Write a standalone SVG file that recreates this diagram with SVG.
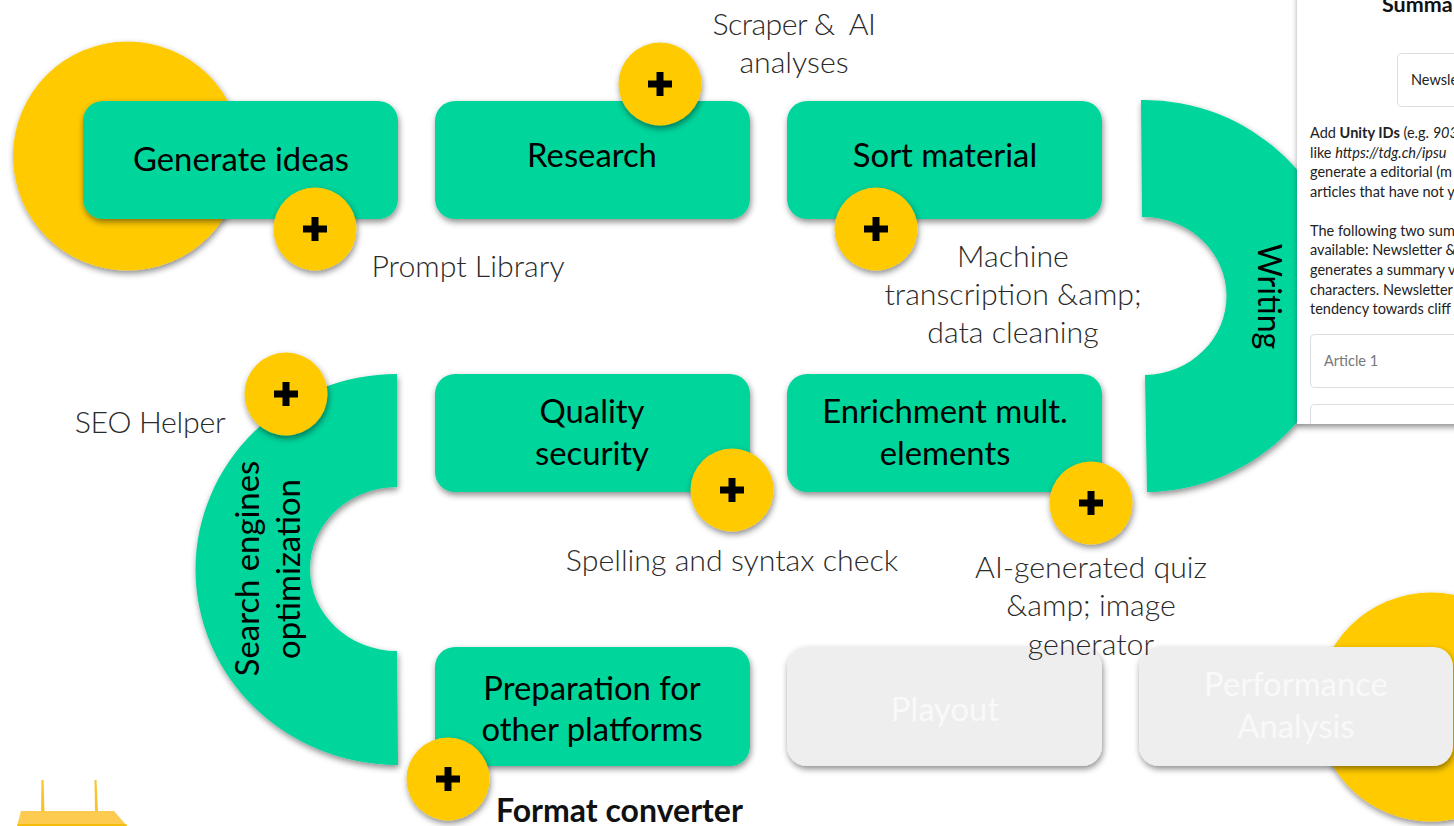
<svg xmlns="http://www.w3.org/2000/svg" width="1454" height="826" viewBox="0 0 1454 826">
<defs>
<filter id="sh" x="-20%" y="-20%" width="140%" height="140%"><feDropShadow dx="1" dy="3" stdDeviation="3" flood-color="#000" flood-opacity="0.45"/></filter>
<clipPath id="pclip"><rect x="1297" y="0" width="157" height="424"/></clipPath>
<g id="plus"><circle r="41.5" class="y"/><path d="M-12,-3.500H-3.500V-12H3.500V-3.500H12V3.500H3.500V12H-3.500V3.500H-12Z" fill="#000"/></g>
</defs>
<style>
text{font-family:"Lato","Noto Sans",sans-serif;}
.g{fill:#00d59b;filter:url(#sh)}
.y{fill:#ffca00;filter:url(#sh)}
.n{fill:#eee;filter:url(#sh)}
.t{font-size:32.8px;fill:#000;text-anchor:middle}
.w{font-size:32.8px;fill:#f9f9f9;text-anchor:middle}
.l{font-size:30.3px;font-weight:300;fill:#2a2a2a;text-anchor:middle}
.s{font-size:14.5px;fill:#222}
</style>
<rect width="1454" height="826" fill="#fff"/>
<circle class="y" cx="127.500" cy="156" r="114.500"/>
<circle class="y" cx="1431" cy="707" r="114.500"/>
<g id="router">
<path d="M41.500,780h2l1,32h-3.500zM94.500,780h2l1.500,32h-3z" fill="#fac32c"/>
<path d="M21,811H114L127,826H17Z" fill="#fdcb50"/>
<path d="M18,824H126L127,826H17Z" fill="#f5bd0a"/>
</g>
<g id="connectors"></g>
<g id="node-ideas"><rect class="g" x="83" y="101" width="315" height="118" rx="20"/><text class="t" x="241" y="171">Generate ideas</text></g>
<g id="node-research"><rect class="g" x="435" y="101" width="315" height="118" rx="20"/><text class="t" x="592" y="167">Research</text></g>
<g id="node-sort"><rect class="g" x="787" y="101" width="315" height="118" rx="20"/><text class="t" x="945" y="167">Sort material</text></g>
<g id="node-writing"><path class="g" d="M1141,100A200,196 0 0 1 1147,492L1145,375A83,79 0 0 0 1142,217Z"/><text class="t" style="font-size:32px" transform="translate(1258,296.500) rotate(90)">Writing</text></g>
<g id="panel">
<rect x="1297" y="-20" width="180" height="444" fill="#fff" filter="url(#sh)"/>
<g clip-path="url(#pclip)">
<text x="1382" y="12" font-size="21.500" font-weight="700" fill="#111">Summa</text>
<rect x="1397.500" y="53.500" width="80" height="53" rx="4" fill="#fff" stroke="#ddd"/>
<text class="s" x="1411" y="85">Newsle</text>
<text class="s" x="1310" y="138">Add <tspan font-weight="700">Unity IDs</tspan> (e.g. <tspan font-style="italic">903</tspan></text>
<text class="s" x="1310" y="158">like <tspan font-style="italic">https://tdg.ch/ipsu</tspan></text>
<text class="s" x="1310" y="177">generate a editorial (m</text>
<text class="s" x="1310" y="197">articles that have not y</text>
<text class="s" x="1310" y="236">The following two sum</text>
<text class="s" x="1310" y="255">available: Newsletter &amp;</text>
<text class="s" x="1310" y="275">generates a summary v</text>
<text class="s" x="1310" y="295">characters. Newsletter</text>
<text class="s" x="1310" y="314">tendency towards cliff</text>
<rect x="1310.500" y="334.500" width="180" height="53" rx="4" fill="#fff" stroke="#ddd"/>
<text class="s" x="1324" y="366" style="fill:#777">Article 1</text>
<rect x="1310.500" y="404.500" width="180" height="53" rx="4" fill="#fff" stroke="#ddd"/>
</g>
</g>
<g id="node-enrich"><rect class="g" x="787" y="374" width="315" height="118" rx="20"/><text class="t"><tspan x="945" y="423">Enrichment mult.</tspan><tspan x="945" y="465">elements</tspan></text></g>
<g id="node-quality"><rect class="g" x="435" y="374" width="315" height="118" rx="20"/><text class="t"><tspan x="592" y="423">Quality</tspan><tspan x="592" y="465">security</tspan></text></g>
<g id="node-seo"><path class="g" d="M397,374A202,195.500 0 0 0 398,765L397,651A87,82 0 0 1 397,487Z"/><text class="t" transform="translate(259,568.500) rotate(-90)">Search engines</text><text class="t" transform="translate(300,569) rotate(-90)">optimization</text></g>
<g id="node-prep"><rect class="g" x="435" y="647" width="315" height="119" rx="20"/><text class="t"><tspan x="592" y="700">Preparation for</tspan><tspan x="592" y="741">other platforms</tspan></text></g>
<g id="node-playout"><rect class="n" x="787" y="647" width="315" height="119" rx="20"/><text class="w" x="945" y="721">Playout</text></g>
<g id="node-perf"><rect class="n" x="1139" y="647" width="314" height="119" rx="20"/><text class="w"><tspan x="1296" y="696">Performance</tspan><tspan x="1296" y="738">Analysis</tspan></text></g>
<use href="#plus" x="660" y="84"/>
<use href="#plus" x="315" y="229"/>
<use href="#plus" x="876" y="229"/>
<use href="#plus" x="286" y="394"/>
<use href="#plus" x="732" y="490"/>
<use href="#plus" x="1091" y="503"/>
<use href="#plus" x="448" y="779"/>
<g id="labels">
<text class="l"><tspan x="794" y="35" style="white-space:pre;letter-spacing:-0.6px">Scraper &amp;  AI</tspan><tspan x="794" y="73">analyses</tspan></text>
<text class="l" x="468" y="277">Prompt Library</text>
<text class="l"><tspan x="1013" y="267">Machine</tspan><tspan x="1013" y="305">transcription &amp;amp;</tspan><tspan x="1013" y="343">data cleaning</tspan></text>
<text class="l" style="letter-spacing:-0.3px" x="150" y="433">SEO Helper</text>
<text class="l" x="732" y="571">Spelling and syntax check</text>
<text class="l"><tspan x="1091" y="578">AI-generated quiz</tspan><tspan x="1091" y="616">&amp;amp; image</tspan><tspan x="1091" y="655">generator</tspan></text>
<text x="496" y="822" font-size="32" font-weight="700" fill="#111">Format converter</text>
</g>
</svg>
